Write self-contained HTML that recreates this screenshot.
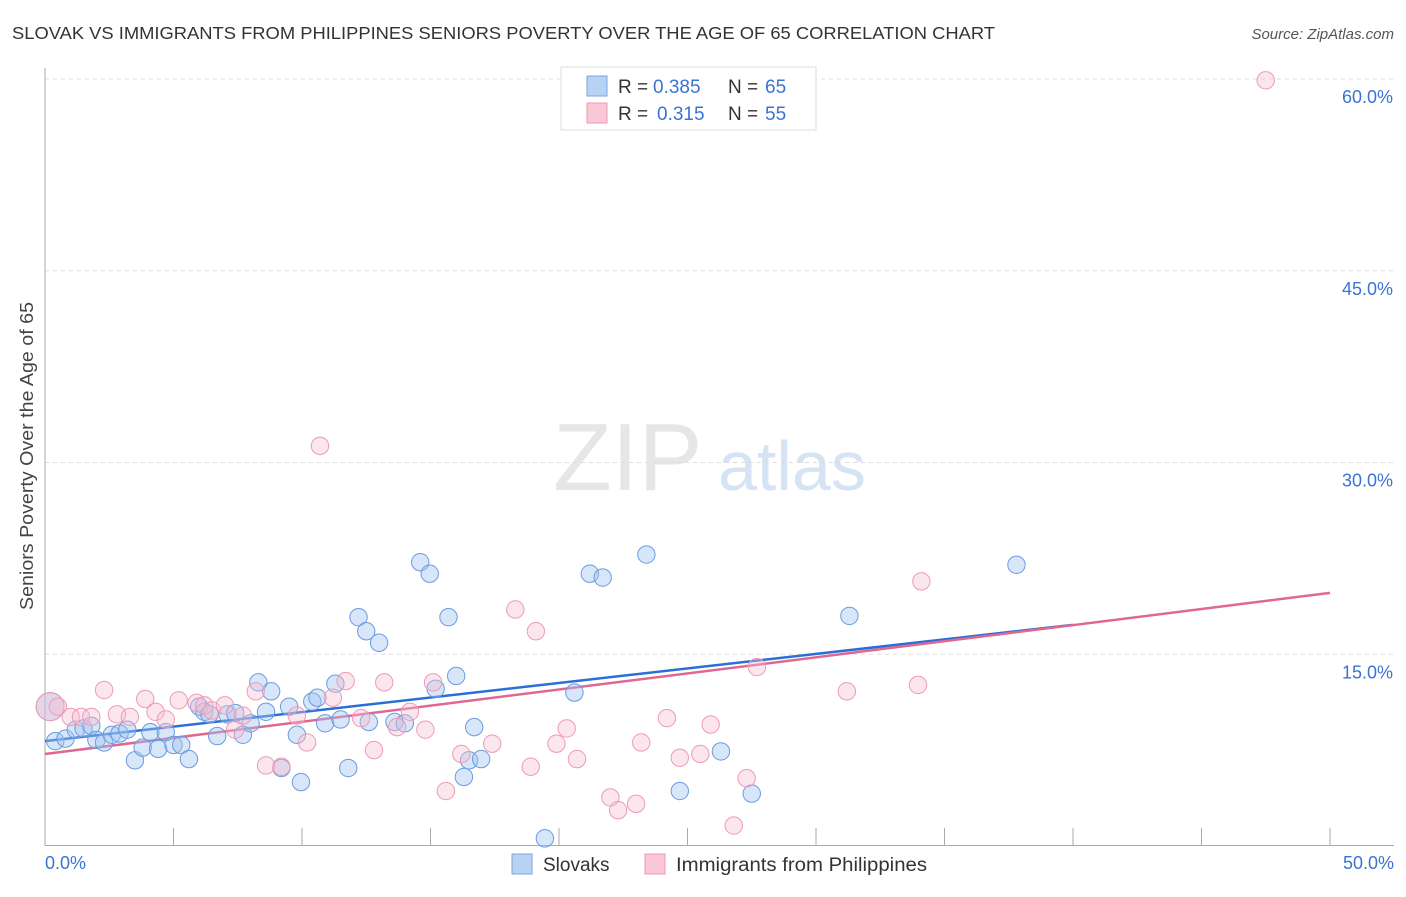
<!DOCTYPE html>
<html><head><meta charset="utf-8"><style>
body{margin:0;background:#fff;font-family:"Liberation Sans",sans-serif;}
svg text{font-family:"Liberation Sans",sans-serif;}
</style></head><body>
<svg id="chart" width="1406" height="892" xmlns="http://www.w3.org/2000/svg">
<text x="12" y="39" font-size="17.5" fill="#333" textLength="983" lengthAdjust="spacingAndGlyphs">SLOVAK VS IMMIGRANTS FROM PHILIPPINES SENIORS POVERTY OVER THE AGE OF 65 CORRELATION CHART</text>
<text x="1394" y="39" font-size="15" fill="#555" text-anchor="end" font-style="italic">Source: ZipAtlas.com</text>
<text transform="translate(33,456) rotate(-90)" font-size="18.5" fill="#444" text-anchor="middle" textLength="308" lengthAdjust="spacingAndGlyphs">Seniors Poverty Over the Age of 65</text>
<g><text x="553" y="490" font-size="96" fill="#e6e6e6" font-family="Liberation Serif">ZIP</text><text x="718" y="490" font-size="70" fill="#d6e3f5">atlas</text></g>
<g id="grid"></g><g id="axes"></g><g id="trend"></g><g id="pts"></g>
<g>
<rect x="561" y="67" width="255" height="63" fill="#fff" stroke="#ddd"/>
<rect x="587" y="76" width="20" height="20" fill="#b8d2f4" stroke="#7aa6e0"/>
<rect x="587" y="103" width="20" height="20" fill="#f9c7d6" stroke="#ee98b3"/>
<text x="618" y="93" font-size="19" fill="#333">R =</text><text x="653" y="93" font-size="19" fill="#3b73d4">0.385</text>
<text x="728" y="93" font-size="19" fill="#333">N =</text><text x="765" y="93" font-size="19" fill="#3b73d4">65</text>
<text x="618" y="120" font-size="19" fill="#333">R =</text><text x="657" y="120" font-size="19" fill="#3b73d4">0.315</text>
<text x="728" y="120" font-size="19" fill="#333">N =</text><text x="765" y="120" font-size="19" fill="#3b73d4">55</text>
</g>
<g>
<rect x="512" y="854" width="20" height="20" fill="#b8d2f4" stroke="#7aa6e0"/>
<text x="543" y="871" font-size="19" fill="#333">Slovaks</text>
<rect x="645" y="854" width="20" height="20" fill="#f9c7d6" stroke="#ee98b3"/>
<text x="676" y="871" font-size="19" fill="#333" textLength="251" lengthAdjust="spacingAndGlyphs">Immigrants from Philippines</text>
</g>
</svg>
<script>
const yTicks=[15,30,45,60];
const yTickLabels=["15.0%","30.0%","45.0%","60.0%"];
const xTicks=[0,5,10,15,20,25,30,35,40,45,50];
const blueX=[0.2,0.4,0.8,1.2,1.5,1.8,2.0,2.3,2.6,2.9,3.2,3.5,3.8,4.1,4.4,4.7,5.0,5.3,5.6,6.0,6.2,6.4,6.7,7.1,7.4,7.7,8.0,8.3,8.6,8.8,9.2,9.5,9.8,9.96,10.4,10.6,10.9,11.3,11.5,11.8,12.2,12.5,12.6,13.0,13.6,14.0,14.6,14.97,15.2,15.7,16.0,16.3,16.5,16.7,16.97,19.45,20.6,21.2,21.7,23.4,24.7,26.3,27.5,31.3,37.8];
const blueY=[10.9,8.2,8.4,9.1,9.2,9.4,8.3,8.1,8.7,8.8,9.1,6.7,7.7,8.9,7.6,8.9,7.9,7.9,6.8,10.9,10.5,10.3,8.6,10.3,10.4,8.7,9.6,12.8,10.5,12.1,6.1,10.9,8.7,5.0,11.3,11.6,9.6,12.7,9.9,6.1,17.9,16.8,9.7,15.9,9.7,9.6,22.2,21.3,12.3,17.9,13.3,5.4,6.7,9.3,6.8,0.6,12.0,21.3,21.0,22.8,4.3,7.4,4.1,18.0,22.0];
const pinkX=[0.2,0.5,1.0,1.4,1.8,2.3,2.8,3.3,3.9,4.3,4.7,5.2,5.9,6.2,6.5,7.0,7.4,7.7,8.2,8.6,9.2,9.8,10.2,10.7,11.2,11.7,12.3,12.8,13.2,13.7,14.2,14.8,15.1,15.6,16.2,17.4,18.3,18.9,19.1,19.9,20.3,20.7,22.0,22.3,23.0,23.2,24.2,24.7,25.5,25.9,26.8,27.3,27.7,31.2,33.97,34.1,47.5];
const pinkY=[10.9,10.9,10.1,10.1,10.1,12.2,10.3,10.1,11.5,10.5,9.9,11.4,11.2,11.0,10.6,11.0,9.1,10.2,12.1,6.3,6.2,10.2,8.1,31.3,11.6,12.9,10.0,7.5,12.8,9.3,10.5,9.1,12.8,4.3,7.2,8.0,18.5,6.2,16.8,8.0,9.2,6.8,3.8,2.8,3.3,8.1,10.0,6.9,7.2,9.5,1.6,5.3,14.0,12.1,12.6,20.7,59.9];
const blueTrend=[[0,8.2],[40,17.3]];
const pinkTrend=[[0,7.2],[50,19.8]];
const NS="http://www.w3.org/2000/svg";
const X=v=>45+v/50*1285, Y=v=>846-v/60*767;
function mk(tag,attrs,parent){const e=document.createElementNS(NS,tag);for(const k in attrs)e.setAttribute(k,attrs[k]);document.getElementById(parent).appendChild(e);return e;}
yTicks.forEach((t,i)=>{
 const l=mk('line',{x1:45,x2:1394,y1:Y(t),y2:Y(t),stroke:'#ddd','stroke-dasharray':'4,4'},'grid');
 
 
 const tx=mk('text',{x:1393,y:Y(t)+24,'font-size':18,fill:'#3b73d4','text-anchor':'end'},'grid');
 tx.textContent=yTickLabels[i];
 
 
});
const ax=mk('line',{x1:45,x2:45,y1:68,y2:846,stroke:'#aaa'},'axes');


const bx=mk('line',{x1:45,x2:1394,y1:845.5,y2:845.5,stroke:'#aaa'},'axes');


xTicks.forEach(t=>{
 const l=mk('line',{x1:X(t),x2:X(t),y1:828,y2:846,stroke:'#aaa'},'axes');
 
 
});
const xl0=mk('text',{x:45,y:869,'font-size':18,fill:'#3b73d4'},'axes');xl0.textContent='0.0%';


const xl1=mk('text',{x:1394,y:869,'font-size':18,fill:'#3b73d4','text-anchor':'end'},'axes');xl1.textContent='50.0%';


blueX.forEach((v,i)=>{
 const c=mk('circle',{cx:X(v),cy:Y(blueY[i]),r:i==0?14:8.7,fill:'rgba(160,195,240,0.42)',stroke:'#6a9be0','stroke-width':1},'pts');
 
 
});
pinkX.forEach((v,i)=>{
 const c=mk('circle',{cx:X(v),cy:Y(pinkY[i]),r:i==0?14:8.7,fill:'rgba(248,190,208,0.38)',stroke:'#ee9ab5','stroke-width':1},'pts');
 
 
});
const tb=mk('line',{x1:X(blueTrend[0][0]),y1:Y(blueTrend[0][1]),x2:X(blueTrend[1][0]),y2:Y(blueTrend[1][1]),stroke:'#2a6fd6','stroke-width':2.5},'trend');


const tp=mk('line',{x1:X(pinkTrend[0][0]),y1:Y(pinkTrend[0][1]),x2:X(pinkTrend[1][0]),y2:Y(pinkTrend[1][1]),stroke:'#e06890','stroke-width':2.5},'trend');


</script>
</body></html>
